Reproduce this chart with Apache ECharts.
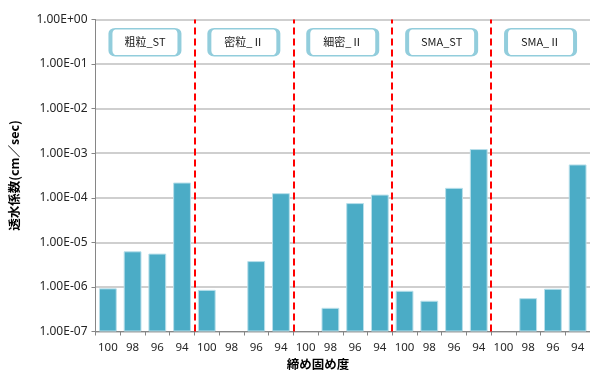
<!DOCTYPE html>
<html>
<head>
<meta charset="utf-8">
<script src="https://cdn.jsdelivr.net/npm/echarts@6/dist/echarts.min.js"></script>
<style>
  html, body { margin: 0; padding: 0; background: #fff; }
  #chart { width: 590px; height: 370px; }
</style>
</head>
<body>
<div id="chart"></div>
<script>
// Compaction levels (x categories), repeated for each mix group
const degrees = ['100', '98', '96', '94'];
const groups = ['粗粒_ST', '密粒_Ⅱ', '細密_Ⅱ', 'SMA_ST', 'SMA_Ⅱ'];

// Permeability coefficient (cm/sec) per group, in order 100, 98, 96, 94
const coarseST = [9.3e-7, 6.3e-6, 5.6e-6, 2.2e-4];
const denseII  = [8.6e-7, null,   3.8e-6, 1.27e-4];
const fineII   = [null,   3.4e-7, 7.6e-5, 1.18e-4];
const smaST    = [8.2e-7, 4.9e-7, 1.67e-4, 1.24e-3];
const smaII    = [null,   5.6e-7, 9.1e-7, 5.6e-4];

const xTitle = '締め固め度';
const yTitle = '透水係数(cm／sec)';

const categories = [];
groups.forEach(() => degrees.forEach(d => categories.push(d)));
const values = [].concat(coarseST, denseII, fineII, smaST, smaII);

// group separators and group label positions on a 0..20 index scale
const separators = [4, 8, 12, 16];
const groupCenters = groups.map((g, i) => i * 4 + 2);

// rounded box with small corner radius for the group labels
const boxPath = 'path://M5,0H65A5,5,0,0,1,70,5V23A5,5,0,0,1,65,28H5A5,5,0,0,1,0,23V5A5,5,0,0,1,5,0Z';

function sci(v) {
  const e = Math.round(Math.log10(v));
  const a = Math.abs(e);
  return '1.00E' + (e < 0 ? '-' : '+') + (a < 10 ? '0' + a : String(a));
}

const chart = echarts.init(document.getElementById('chart'));
chart.setOption({
  animation: false,
  backgroundColor: '#ffffff',
  grid: { left: 90, right: 0, top: 19.5, bottom: 38.5 },
  xAxis: [{
    type: 'category',
    data: categories,
    axisLine: { lineStyle: { color: '#868686', width: 1 } },
    axisTick: { show: true, length: 4, lineStyle: { color: '#868686' } },
    axisLabel: { color: '#262626', fontFamily: 'Noto Sans', fontSize: 11.5, margin: 10, interval: 0 },
    splitLine: { show: false }
  }, {
    type: 'value',
    min: 0, max: 20,
    show: false
  }],
  yAxis: {
    type: 'log',
    logBase: 10,
    min: 1e-7,
    max: 1,
    startValue: 1e-7,
    name: yTitle,
    nameLocation: 'middle',
    nameRotate: 90,
    nameGap: 75,
    nameTextStyle: { color: '#000', fontFamily: 'Noto Sans CJK JP', fontWeight: 'bold', fontSize: 12.5 },
    axisLine: { show: true, lineStyle: { color: '#868686', width: 1 } },
    axisTick: { show: true, length: 4, lineStyle: { color: '#868686' } },
    axisLabel: { color: '#262626', fontFamily: 'Noto Sans', fontSize: 12, margin: 8, formatter: sci },
    splitLine: { show: true, lineStyle: { color: '#bfbfbf', width: 1.5 } }
  },
  series: [{
    type: 'bar',
    data: values,
    barCategoryGap: '28%',
    itemStyle: { color: '#4bacc6', borderColor: '#b8dfea', borderWidth: 1 }
  }, {
    type: 'line',
    xAxisIndex: 1,
    yAxisIndex: 0,
    data: [],
    silent: true,
    markLine: {
      silent: true,
      symbol: 'none',
      label: { show: false },
      lineStyle: { color: '#ff0000', type: [7, 4], width: 2 },
      data: separators.map(s => ({ xAxis: s }))
    },
    markPoint: {
      silent: true,
      symbol: boxPath,
      symbolSize: [69, 27],
      itemStyle: { color: '#ffffff', borderColor: '#92cddc', borderWidth: 2.5 },
      label: {
        show: true,
        position: 'inside',
        color: '#1a1a1a',
        fontFamily: 'Noto Sans CJK JP',
        fontSize: 11,
        formatter: p => p.name
      },
      data: groups.map((g, i) => ({ name: g, coord: [groupCenters[i], 0.31] }))
    }
  }],
  graphic: [{
    type: 'text',
    x: 318,
    y: 364,
    style: {
      text: xTitle,
      align: 'center',
      verticalAlign: 'middle',
      fill: '#000',
      font: 'bold 12.5px "Noto Sans CJK JP"'
    }
  }]
});
</script>
</body>
</html>
